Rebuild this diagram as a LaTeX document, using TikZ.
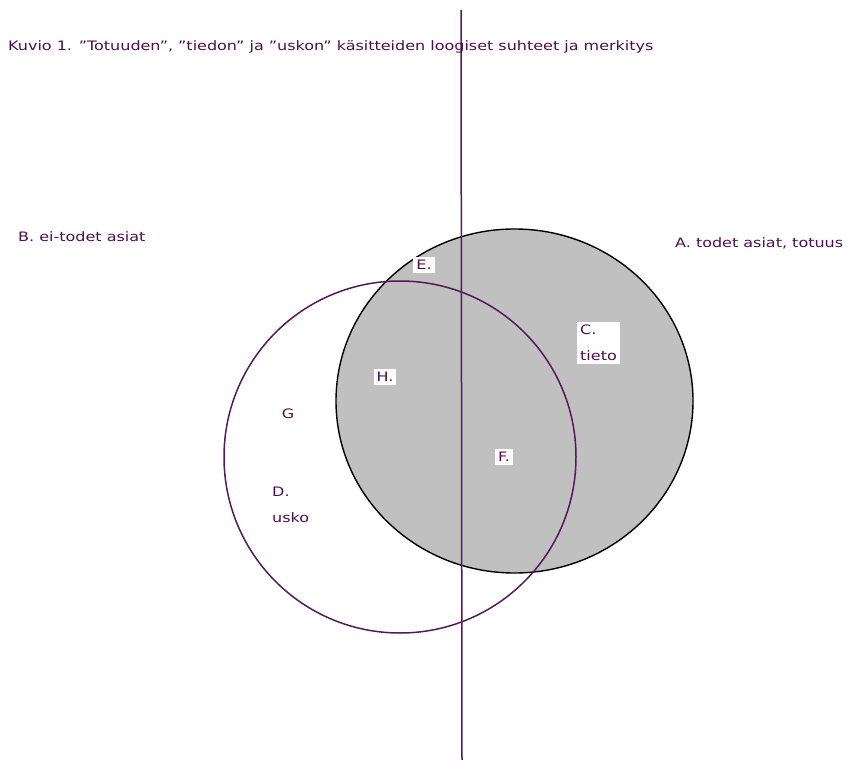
\documentclass[tikz,border=0pt]{standalone}
\usepackage{fontspec}
\setmainfont[FakeStretch=1.23]{DejaVu Sans}
\usepackage{xcolor}
\usepackage{tikz}
\definecolor{plum}{HTML}{55185A}
\definecolor{ink}{HTML}{4A0E4E}
\definecolor{shade}{HTML}{C0C0C0}

\begin{document}
\begin{tikzpicture}[x=1pt,y=-1pt,lbl/.style={text=ink,font=\fontsize{13}{26}\selectfont,inner sep=3pt,align=left},tag/.style={lbl,fill=white},ring/.style={draw=plum,line width=1.5pt}]
\useasboundingbox (0,0) rectangle (847,760);
% tieto: harmaa alue
\draw[black,line width=1.4pt,fill=shade] (514.5,401) ellipse (178.5 and 172);
% usko
\draw[ring] (400,457) circle (176);
% raja toden ja ei-toden valilla
\draw[ring] (461,10) -- (462,760);
\node[lbl,anchor=west] (title) at (5,47) {Kuvio 1. ”Totuuden”, ”tiedon” ja ”uskon” käsitteiden loogiset suhteet ja merkitys};
\node[lbl,anchor=west] (false) at (15,237) {B. ei-todet asiat};
\node[lbl,anchor=west] (true) at (672,243) {A. todet asiat, totuus};
\node[tag] (e) at (424,265) {E.};
\node[tag,anchor=north west] (tieto) at (577,322) {C.\\tieto};
\node[tag] (h) at (385,377) {H.};
\node[lbl] (g) at (288,414) {G};
\node[tag] (f) at (504,457) {F.};
\node[lbl,anchor=north west] (usko) at (269,484) {D.\\usko};
\end{tikzpicture}
\end{document}
